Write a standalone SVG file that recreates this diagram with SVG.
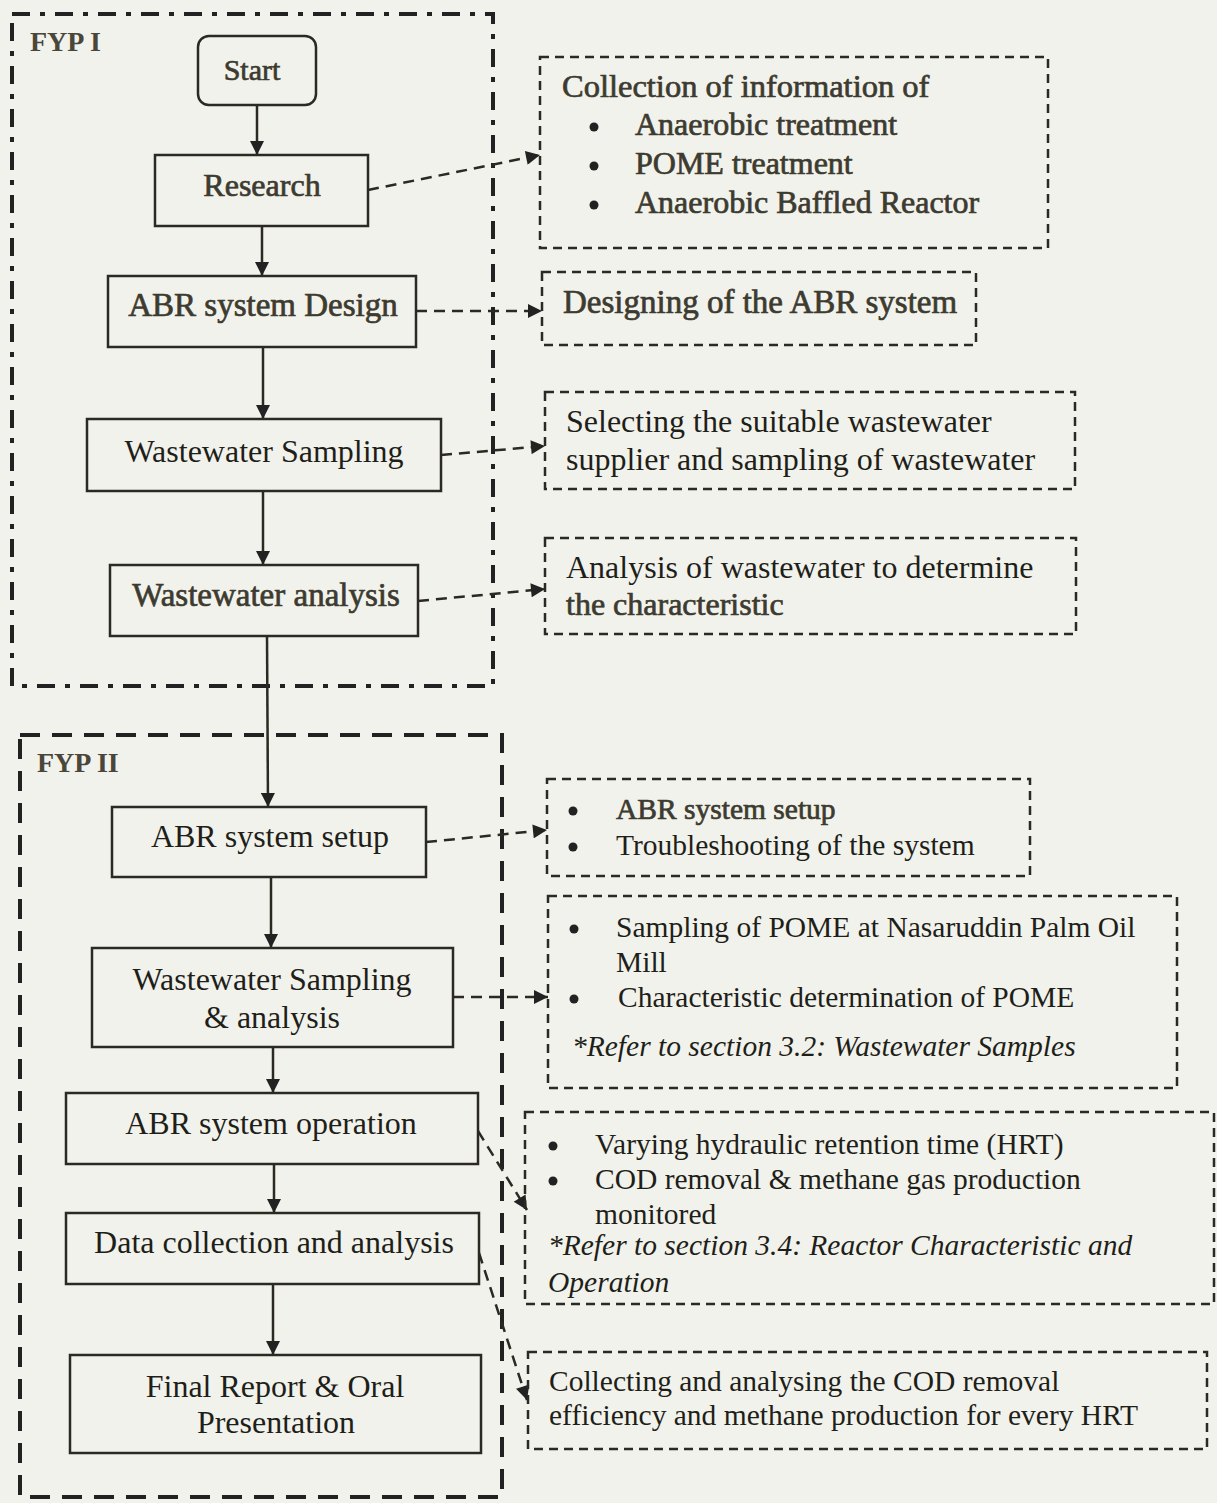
<svg xmlns="http://www.w3.org/2000/svg" width="1217" height="1503" viewBox="0 0 1217 1503">
<style>
.bg{fill:#f2f2ec}
.node{fill:none;stroke:#2a2a22;stroke-width:2.5}
.t{font-family:"Liberation Serif","Times New Roman",serif;font-size:32px;fill:#1f1f1a}
.tb{font-family:"Liberation Serif","Times New Roman",serif;font-size:32px;fill:#3d3b30;stroke:#3d3b30;stroke-width:0.7}
.s{font-size:29.5px}
.mid{text-anchor:middle}
.it{font-style:italic}
.note{fill:none;stroke:#2a2a22;stroke-width:2.5;stroke-dasharray:9 6}
.solid{stroke:#2a2a22;stroke-width:2.5;fill:none}
.dash{stroke:#2a2a22;stroke-width:2.5;fill:none;stroke-dasharray:11 7}
.fyp1{fill:none;stroke:#222;stroke-width:4;stroke-dasharray:18 10 5 10}
.fyp2{fill:none;stroke:#222;stroke-width:4;stroke-dasharray:20 12}
.lbl{font-family:"Liberation Serif","Times New Roman",serif;font-size:28px;font-weight:bold;fill:#4a463a}
.dot{fill:#222}
</style>
<defs>
<marker id="a" viewBox="0 0 10 10" refX="10" refY="5" markerWidth="16" markerHeight="14" markerUnits="userSpaceOnUse" orient="auto">
<path d="M0,0 L10,5 L0,10 z" fill="#222"/>
</marker>
</defs>
<rect class="bg" x="0" y="0" width="1217" height="1503"/>

<g id="frames">
<rect class="fyp1" x="12" y="14" width="481" height="672"/>
<text class="lbl" x="30" y="51">FYP I</text>
<rect class="fyp2" x="20" y="735" width="482" height="762"/>
<text class="lbl" x="37" y="772">FYP II</text>
</g>

<g id="connectors">
<line class="solid" x1="257" y1="105" x2="257" y2="155" marker-end="url(#a)"/>
<line class="solid" x1="262" y1="226" x2="262" y2="276" marker-end="url(#a)"/>
<line class="solid" x1="263" y1="347" x2="263" y2="419" marker-end="url(#a)"/>
<line class="solid" x1="263" y1="491" x2="263" y2="565" marker-end="url(#a)"/>
<line class="solid" x1="267" y1="636" x2="268" y2="807" marker-end="url(#a)"/>
<line class="solid" x1="271" y1="877" x2="271" y2="948" marker-end="url(#a)"/>
<line class="solid" x1="273" y1="1047" x2="273" y2="1093" marker-end="url(#a)"/>
<line class="solid" x1="274" y1="1164" x2="274" y2="1213" marker-end="url(#a)"/>
<line class="solid" x1="273" y1="1284" x2="273" y2="1355" marker-end="url(#a)"/>

<line class="dash" x1="368" y1="190" x2="540" y2="155" marker-end="url(#a)"/>
<line class="dash" x1="416" y1="311" x2="542" y2="311" marker-end="url(#a)"/>
<line class="dash" x1="441" y1="455" x2="545" y2="446" marker-end="url(#a)"/>
<line class="dash" x1="418" y1="601" x2="545" y2="589" marker-end="url(#a)"/>
<line class="dash" x1="426" y1="842" x2="547" y2="830" marker-end="url(#a)"/>
<line class="dash" x1="453" y1="997" x2="548" y2="997" marker-end="url(#a)"/>
<line class="dash" x1="478" y1="1131" x2="527" y2="1210" marker-end="url(#a)"/>
<line class="dash" x1="479" y1="1253" x2="527" y2="1400" marker-end="url(#a)"/>
</g>

<g id="start">
<rect class="node" x="198" y="36" width="118" height="69" rx="11"/>
<text class="tb mid" x="252" y="80" style="font-size:30px">Start</text>
</g>
<g id="research">
<rect class="node" x="155" y="155" width="213" height="71"/>
<text class="tb mid" x="262" y="196">Research</text>
</g>
<g id="abr-design">
<rect class="node" x="108" y="276" width="308" height="71"/>
<text class="tb mid" x="263" y="316" style="font-size:33px">ABR system Design</text>
</g>
<g id="ww-sampling">
<rect class="node" x="87" y="419" width="354" height="72"/>
<text class="t mid" x="264" y="462">Wastewater Sampling</text>
</g>
<g id="ww-analysis">
<rect class="node" x="110" y="565" width="308" height="71"/>
<text class="tb mid" x="266" y="606" style="font-size:33px">Wastewater analysis</text>
</g>
<g id="abr-setup">
<rect class="node" x="112" y="807" width="314" height="70"/>
<text class="t mid" x="270" y="847">ABR system setup</text>
</g>
<g id="ww-sampling-analysis">
<rect class="node" x="92" y="948" width="361" height="99"/>
<text class="t mid" x="272" y="990">Wastewater Sampling</text>
<text class="t mid" x="272" y="1028">&amp; analysis</text>
</g>
<g id="abr-operation">
<rect class="node" x="66" y="1093" width="412" height="71"/>
<text class="t mid" x="271" y="1134">ABR system operation</text>
</g>
<g id="data-collection">
<rect class="node" x="66" y="1213" width="413" height="71"/>
<text class="t mid" x="274" y="1253">Data collection and analysis</text>
</g>
<g id="final-report">
<rect class="node" x="70" y="1355" width="411" height="98"/>
<text class="t mid" x="275" y="1397">Final Report &amp; Oral</text>
<text class="t mid" x="276" y="1433">Presentation</text>
</g>

<g id="note-collection">
<rect class="note" x="540" y="57" width="508" height="191"/>
<text class="tb" x="562" y="97" style="font-size:32.5px">Collection of information of</text>
<circle class="dot" cx="594" cy="127" r="4.5"/>
<text class="tb" x="635" y="135">Anaerobic treatment</text>
<circle class="dot" cx="594" cy="166" r="4.5"/>
<text class="tb" x="635" y="174">POME treatment</text>
<circle class="dot" cx="594" cy="205" r="4.5"/>
<text class="tb" x="635" y="213">Anaerobic Baffled Reactor</text>
</g>
<g id="note-designing">
<rect class="note" x="542" y="272" width="434" height="73"/>
<text class="tb" x="563" y="313" style="font-size:33px">Designing of the ABR system</text>
</g>
<g id="note-selecting">
<rect class="note" x="545" y="392" width="530" height="97"/>
<text class="t" x="566" y="432">Selecting the suitable wastewater</text>
<text class="t" x="566" y="470">supplier and sampling of wastewater</text>
</g>
<g id="note-analysis">
<rect class="note" x="545" y="538" width="531" height="96"/>
<text class="t" x="566" y="578">Analysis of wastewater to determine</text>
<text class="tb" x="566" y="615">the characteristic</text>
</g>
<g id="note-setup">
<rect class="note" x="547" y="779" width="483" height="97"/>
<circle class="dot" cx="573" cy="811" r="4.5"/>
<text class="tb s" x="616" y="819">ABR system setup</text>
<circle class="dot" cx="573" cy="847" r="4.5"/>
<text class="t s" x="616" y="855">Troubleshooting of the system</text>
</g>
<g id="note-sampling">
<rect class="note" x="548" y="896" width="629" height="192"/>
<circle class="dot" cx="574" cy="929" r="4.5"/>
<text class="t s" x="616" y="937">Sampling of POME at Nasaruddin Palm Oil</text>
<text class="t s" x="616" y="972">Mill</text>
<circle class="dot" cx="574" cy="999" r="4.5"/>
<text class="t s" x="618" y="1007">Characteristic determination of POME</text>
<text class="t s it" x="572" y="1056">*Refer to section 3.2: Wastewater Samples</text>
</g>
<g id="note-operation">
<rect class="note" x="525" y="1112" width="689" height="192"/>
<circle class="dot" cx="553" cy="1146" r="4.5"/>
<text class="t s" x="595" y="1154">Varying hydraulic retention time (HRT)</text>
<circle class="dot" cx="553" cy="1181" r="4.5"/>
<text class="t s" x="595" y="1189">COD removal &amp; methane gas production</text>
<text class="t s" x="595" y="1224">monitored</text>
<text class="t s it" x="548" y="1255">*Refer to section 3.4: Reactor Characteristic and</text>
<text class="t s it" x="548" y="1292">Operation</text>
</g>
<g id="note-collecting">
<rect class="note" x="528" y="1352" width="679" height="97"/>
<text class="t s" x="549" y="1391">Collecting and analysing the COD removal</text>
<text class="t s" x="549" y="1425">efficiency and methane production for every HRT</text>
</g>
</svg>
